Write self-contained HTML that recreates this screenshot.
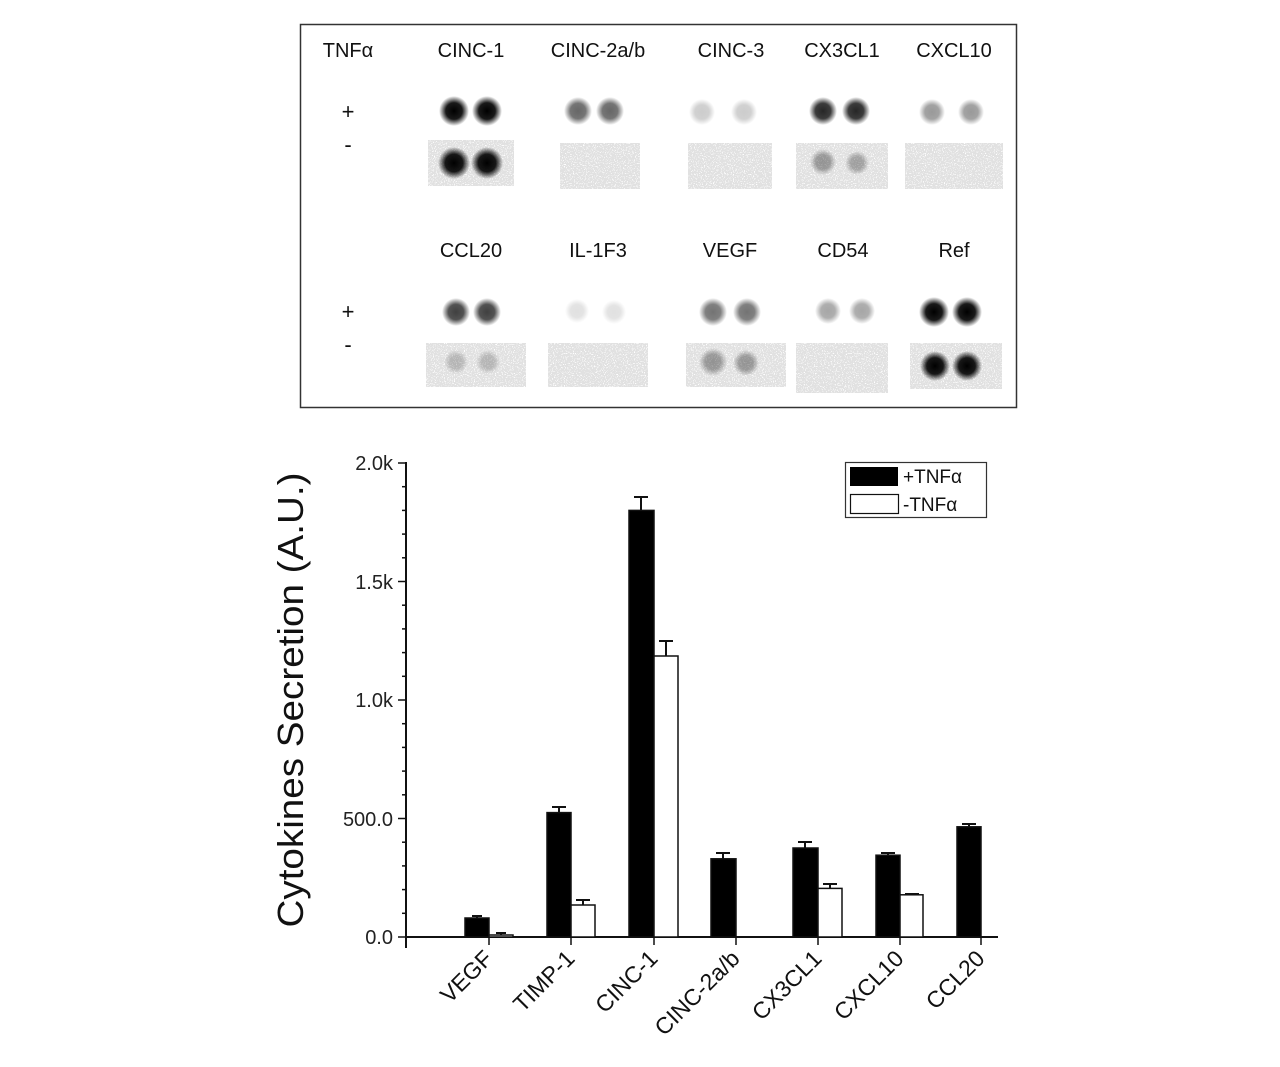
<!DOCTYPE html>
<html><head><meta charset="utf-8"><style>body{margin:0;background:#fff}svg{display:block}</style></head>
<body>
<svg width="1280" height="1067" xmlns="http://www.w3.org/2000/svg" font-family="Liberation Sans, Arial, sans-serif">
<defs>
<radialGradient id="g"><stop offset="0" stop-color="#000" stop-opacity="1"/><stop offset="0.55" stop-color="#000" stop-opacity="0.9"/><stop offset="1" stop-color="#000" stop-opacity="0"/></radialGradient>
<filter id="n" x="0" y="0" width="1" height="1"><feTurbulence type="fractalNoise" baseFrequency="0.9" numOctaves="1" seed="3"/><feColorMatrix values="0 0 0 0 0  0 0 0 0 0  0 0 0 0 0  0 0 0 -14 9.2"/></filter>
</defs>
<rect x="300.5" y="24.5" width="716" height="383" fill="#fff" stroke="#333" stroke-width="1.5"/>
<g font-size="20" fill="#111" text-anchor="middle">
<text x="348" y="57">TNFα</text>
<text x="471" y="57">CINC-1</text><text x="598" y="57">CINC-2a/b</text><text x="731" y="57">CINC-3</text><text x="842" y="57">CX3CL1</text><text x="954" y="57">CXCL10</text>
<text x="471" y="257">CCL20</text><text x="598" y="257">IL-1F3</text><text x="730" y="257">VEGF</text><text x="843" y="257">CD54</text><text x="954" y="257">Ref</text>
<text x="348" y="119" font-size="22">+</text><text x="348" y="152" font-size="22">-</text>
<text x="348" y="319" font-size="22">+</text><text x="348" y="352" font-size="22">-</text>
</g>
<g opacity="0.12">
<rect x="428" y="140" width="86" height="46" filter="url(#n)"/><rect x="560" y="143" width="80" height="46" filter="url(#n)"/>
<rect x="688" y="143" width="84" height="46" filter="url(#n)"/><rect x="796" y="143" width="92" height="46" filter="url(#n)"/>
<rect x="905" y="143" width="98" height="46" filter="url(#n)"/><rect x="426" y="343" width="100" height="44" filter="url(#n)"/>
<rect x="548" y="343" width="100" height="44" filter="url(#n)"/><rect x="686" y="343" width="100" height="44" filter="url(#n)"/>
<rect x="796" y="343" width="92" height="50" filter="url(#n)"/><rect x="910" y="343" width="92" height="46" filter="url(#n)"/>
</g>
<g fill="url(#g)">
<circle cx="454" cy="111" r="15"/><circle cx="487" cy="111" r="15"/>
<circle cx="454" cy="163" r="16"/><circle cx="487" cy="163" r="16"/>
<circle cx="578" cy="111" r="14" opacity="0.6"/><circle cx="610" cy="111" r="14" opacity="0.6"/>
<circle cx="702" cy="112" r="13" opacity="0.2"/><circle cx="744" cy="112" r="13" opacity="0.2"/>
<circle cx="823" cy="111" r="14" opacity="0.85"/><circle cx="856" cy="111" r="14" opacity="0.85"/>
<circle cx="823" cy="162" r="13" opacity="0.35"/><circle cx="857" cy="163" r="12" opacity="0.3"/>
<circle cx="932" cy="112" r="13" opacity="0.4"/><circle cx="971" cy="112" r="13" opacity="0.4"/>
<circle cx="456" cy="312" r="14" opacity="0.75"/><circle cx="487" cy="312" r="14" opacity="0.75"/>
<circle cx="456" cy="362" r="12" opacity="0.2"/><circle cx="488" cy="362" r="12" opacity="0.2"/>
<circle cx="577" cy="311" r="12" opacity="0.12"/><circle cx="614" cy="312" r="12" opacity="0.12"/>
<circle cx="713" cy="312" r="14" opacity="0.55"/><circle cx="747" cy="312" r="14" opacity="0.55"/>
<circle cx="713" cy="362" r="14" opacity="0.35"/><circle cx="746" cy="363" r="13" opacity="0.35"/>
<circle cx="828" cy="311" r="13" opacity="0.35"/><circle cx="862" cy="311" r="13" opacity="0.35"/>
<circle cx="934" cy="312" r="15"/><circle cx="967" cy="312" r="15"/>
<circle cx="935" cy="366" r="15"/><circle cx="967" cy="366" r="15"/>
</g>
<g stroke="#111" stroke-width="2" fill="none">
<line x1="406" y1="462" x2="406" y2="948"/>
<line x1="405" y1="937" x2="998" y2="937"/>
</g>
<g stroke="#111" stroke-width="1.5">
<line x1="398" y1="463" x2="406" y2="463"/><line x1="398" y1="581.5" x2="406" y2="581.5"/><line x1="398" y1="700" x2="406" y2="700"/><line x1="398" y1="818.5" x2="406" y2="818.5"/><line x1="398" y1="937" x2="406" y2="937"/>
<line x1="402" y1="486.7" x2="406" y2="486.7"/><line x1="402" y1="510.4" x2="406" y2="510.4"/><line x1="402" y1="534.1" x2="406" y2="534.1"/><line x1="402" y1="557.8" x2="406" y2="557.8"/>
<line x1="402" y1="605.2" x2="406" y2="605.2"/><line x1="402" y1="628.9" x2="406" y2="628.9"/><line x1="402" y1="652.6" x2="406" y2="652.6"/><line x1="402" y1="676.3" x2="406" y2="676.3"/>
<line x1="402" y1="723.7" x2="406" y2="723.7"/><line x1="402" y1="747.4" x2="406" y2="747.4"/><line x1="402" y1="771.1" x2="406" y2="771.1"/><line x1="402" y1="794.8" x2="406" y2="794.8"/>
<line x1="402" y1="842.2" x2="406" y2="842.2"/><line x1="402" y1="865.9" x2="406" y2="865.9"/><line x1="402" y1="889.6" x2="406" y2="889.6"/><line x1="402" y1="913.3" x2="406" y2="913.3"/>
<line x1="489" y1="937" x2="489" y2="945"/><line x1="571" y1="937" x2="571" y2="945"/><line x1="654" y1="937" x2="654" y2="945"/><line x1="736" y1="937" x2="736" y2="945"/><line x1="818" y1="937" x2="818" y2="945"/><line x1="900" y1="937" x2="900" y2="945"/><line x1="981" y1="937" x2="981" y2="945"/>
</g>
<g font-size="20" fill="#222" text-anchor="end">
<text x="393" y="470">2.0k</text><text x="393" y="589">1.5k</text><text x="393" y="707">1.0k</text><text x="393" y="826">500.0</text><text x="393" y="944">0.0</text>
</g>
<text transform="translate(303,700) rotate(-90)" font-size="36" text-anchor="middle" textLength="455" lengthAdjust="spacingAndGlyphs" fill="#111">Cytokines Secretion (A.U.)</text>
<g stroke="#111" stroke-width="1.5">
<rect x="465" y="918" width="24" height="19" fill="#000"/><rect x="489" y="935" width="24" height="2" fill="#fff"/>
<rect x="547" y="812.6" width="24" height="124.4" fill="#000"/><rect x="571" y="905" width="24" height="32" fill="#fff"/>
<rect x="629" y="510.4" width="25" height="426.6" fill="#000"/><rect x="654" y="656" width="24" height="281" fill="#fff"/>
<rect x="711" y="858.8" width="25" height="78.2" fill="#000"/>
<rect x="793" y="848" width="25" height="89" fill="#000"/><rect x="818" y="888.4" width="24" height="48.6" fill="#fff"/>
<rect x="876" y="855.2" width="24" height="81.8" fill="#000"/><rect x="900" y="894.8" width="23" height="42.2" fill="#fff"/>
<rect x="957" y="826.8" width="24" height="110.2" fill="#000"/>
</g>
<g stroke="#111" stroke-width="2">
<path d="M477 918v-2M472 916h10"/><path d="M501 935v-2M496 933h10"/>
<path d="M559 813v-6M552 807h14"/><path d="M583 905v-5M576 900h14"/>
<path d="M641 510v-13M634 497h14"/><path d="M666 656v-15M659 641h14"/>
<path d="M723 859v-6M716 853h14"/>
<path d="M805 848v-6M798 842h14"/><path d="M830 888v-4M823 884h14"/>
<path d="M888 855v-2M881 853h14"/><path d="M912 895v-1M905 894h14"/>
<path d="M969 827v-3M962 824h14"/>
</g>
<g font-size="23" fill="#111" text-anchor="end">
<text transform="translate(494,960) rotate(-45)">VEGF</text>
<text transform="translate(576,960) rotate(-45)">TIMP-1</text>
<text transform="translate(659,960) rotate(-45)">CINC-1</text>
<text transform="translate(741,960) rotate(-45)">CINC-2a/b</text>
<text transform="translate(823,960) rotate(-45)">CX3CL1</text>
<text transform="translate(905,960) rotate(-45)">CXCL10</text>
<text transform="translate(986,960) rotate(-45)">CCL20</text>
</g>
<rect x="845.5" y="462.5" width="141" height="55" fill="#fff" stroke="#333" stroke-width="1.2"/>
<rect x="850" y="467" width="48" height="19" fill="#000"/>
<rect x="850.5" y="494.5" width="48" height="19" fill="#fff" stroke="#111" stroke-width="1.2"/>
<text x="903" y="483" font-size="19" fill="#111">+TNFα</text>
<text x="903" y="511" font-size="19" fill="#111">-TNFα</text>
</svg>
</body></html>
